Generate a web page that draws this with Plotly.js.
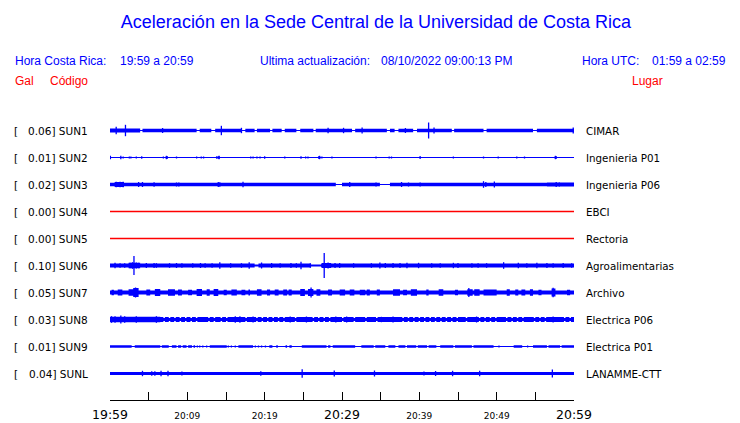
<!DOCTYPE html>
<html><head><meta charset="utf-8">
<script src="https://cdn.plot.ly/plotly-3.0.1.min.js"></script>
<style>html,body{margin:0;padding:0;background:#fff}#chart{width:740px;height:423px}</style>
</head><body><div id="chart"></div>
<script>
// ---------- DATA ----------
const codes  = ["SUN1","SUN2","SUN3","SUN4","SUN5","SUN6","SUN7","SUN8","SUN9","SUNL"];
const places = ["CIMAR","Ingenieria P01","Ingenieria P06","EBCI","Rectoria","Agroalimentarias","Archivo","Electrica P06","Electrica P01","LANAMME-CTT"];
const pgaGal = [0.06,0.01,0.02,0.00,0.00,0.10,0.05,0.03,0.01,0.04];
const tickMinutes = [0,5,10,15,20,25,30,35,40,45,50,55,60];
const tickLabels  = ["19:59","","20:09","","20:19","","20:29","","20:39","","20:49","","20:59"];
const majorTickLabels = ["19:59","20:29","20:59"];

// noise-band half amplitude per station (display units)
const baseAmp = [1.7,0.0,1.7,0.0,0.0,2.0,1.9,2.4,0.5,1.5];

// [start minute, end minute, half amplitude] where the band differs from the base
const sun1Segs = [[0,3.9,2.0],[3.9,4.2,0.5],[11.2,11.6,0.5],[13.1,13.6,0.5],[17.0,17.5,0.5],[18.7,19.0,0.5],[20.7,21.0,0.5],[22.2,22.6,0.5],[24.1,24.6,0.5],[26.3,26.6,0.5],[31.3,31.7,0.5],[35.8,36.2,0.5],[36.8,37.3,0.5],[39.2,39.7,0.5],[44.2,44.5,0.5],[48.3,48.7,0.5],[54.7,55.2,0.5]];
const sun2Segs = [[7.2,7.5,1.3],[13.9,14.2,1.3],[26.9,27.2,1.2],[57.5,57.8,1.2]];
const sun3Segs = [[0.6,1.8,2.5],[29.2,30.0,0.5],[34.9,36.2,0.5],[56.5,60,2.0]];
const sun4Segs = [];
const sun5Segs = [];
const sun6Segs = [[2.4,3.9,2.7],[18.7,19.2,1.1],[26.0,27.3,1.1],[27.4,28.6,2.5]];
const sun7Segs = [[0.2,0.5,2.7],[1.0,1.6,3],[2.4,3.0,3.3],[3.0,3.7,4.5],[4.7,5.2,3],[5.8,6.5,3.5],[7.5,8.4,3.3],[8.8,9.3,3],[10.1,10.6,2.7],[11.2,11.9,3.5],[12.5,12.9,3.3],[13.4,14.0,3.5],[14.7,15.1,2.7],[15.7,16.4,3],[17.0,17.5,2.7],[17.9,18.1,3],[19.0,19.6,3.3],[20.3,20.7,3],[21.3,21.8,3],[22.4,22.9,3],[23.1,23.5,3],[24.6,25.2,3.5],[25.6,26.3,3.5],[26.7,27.2,3.3],[28.2,28.7,3],[29.7,30.4,3],[31.0,31.6,3],[32.3,33.0,2.7],[33.2,33.6,3],[34.5,34.9,3],[36.6,37.5,3.3],[37.9,38.4,2.7],[38.9,39.7,3.3],[40.9,41.2,3],[42.5,43.1,3.3],[44.6,45.0,2.7],[46.2,46.9,3.3],[47.1,47.8,3.3],[48.3,50.0,3],[51.3,51.7,3.3],[52.4,52.8,3],[53.2,53.7,3],[54.3,54.7,3.3],[55.4,55.8,2.7],[57.1,57.6,4],[59.1,59.5,2.7]];
const sun8Segs = [[0,6.5,2.8],[6.9,7.1,1.6],[7.6,7.8,1.6],[8.3,8.5,1.6],[9.0,9.2,1.6],[9.7,9.9,1.6],[10.4,10.6,1.6],[11.1,11.3,1.6],[12.7,12.9,1.6],[13.4,13.6,1.6],[14.3,14.5,1.6],[15.0,15.2,1.6],[17.5,17.7,1.6],[18.9,19.1,1.6],[19.6,19.8,1.6],[20.3,20.5,1.6],[21.0,21.2,1.6],[21.7,21.9,1.6],[22.4,22.6,1.6],[23.9,24.1,1.6],[26.2,26.4,1.6],[26.9,27.1,1.6],[27.6,27.8,1.6],[28.3,28.5,1.6],[30.0,30.2,1.6],[31.5,31.7,1.6],[33.0,33.2,1.6],[34.4,34.6,1.6],[37.8,38.0,1.6],[38.5,38.7,1.6],[39.2,39.4,1.6],[39.9,40.1,1.6],[40.6,40.8,1.6],[41.3,41.5,1.6],[42.0,42.2,1.6],[42.7,42.9,1.6],[43.4,43.6,1.6],[44.1,44.3,1.6],[44.8,45.0,1.6],[46.0,46.2,1.6],[47.7,47.9,1.6],[48.4,48.6,1.6],[49.1,49.3,1.6],[49.8,50.0,1.6],[51.2,51.4,1.6],[51.9,52.1,1.6],[52.6,52.8,1.6],[53.3,53.5,1.6],[54.8,55.0,1.6],[55.5,55.7,1.6],[56.2,56.4,1.6],[58.7,58.9,1.6],[59.4,59.6,1.6]];
const sun9Segs = [[0,2.8,1.3],[3.2,6.5,1.3],[6.7,7.6,1.3],[8.0,8.6,1.3],[8.8,9.2,1.3],[9.4,9.9,1.3],[10.1,10.6,1.3],[10.8,11.0,1.3],[12.9,15.1,1.3],[16.6,18.5,1.3],[20.6,21.0,1.3],[21.5,21.7,1.3],[22.7,22.9,1.3],[23.2,23.5,1.3],[24.8,28.0,1.3],[28.2,28.5,1.3],[28.8,31.7,1.3],[32.5,34.1,1.3],[34.3,35.6,1.3],[36.0,36.9,1.3],[37.3,38.2,1.3],[38.4,39.6,1.3],[39.8,41.0,1.3],[41.2,42.2,1.3],[42.7,44.4,1.3],[44.6,46.8,1.3],[47.0,49.6,1.3],[52.2,53.3,1.3],[54.7,56.5,1.3],[56.7,58.2,1.3],[58.4,60,1.3]];
const sunLSegs = [];

// [minute, half amplitude] of individual peaks
const sun1Peaks = [[0.8,3.7],[2.0,5.7],[6.8,2.5],[14.4,4.7],[17.0,2.7],[28.2,2.7],[30.2,2.7],[32.6,3],[38.2,2.5],[41.2,8],[41.9,3],[59.9,3]];
const sun2Peaks = [[0.05,1.7],[1.4,1.7],[1.7,1],[2.5,1],[2.7,1],[3.4,1],[4.1,1.3],[6.9,1],[7.3,1.7],[8.6,1],[11.2,1],[11.8,1],[12.1,1],[13.8,1.3],[14.1,1.7],[18.2,1],[18.5,1],[19.0,1],[19.4,1],[20.0,1.3],[22.6,1],[24.7,1.3],[25.3,1],[25.6,1],[27.1,1.7],[27.4,1],[28.7,1],[34.4,1],[36.1,1],[36.4,1],[40.1,1.5],[44.4,1],[48.3,1],[50.2,1],[52.6,1],[53.6,1],[57.6,1.7]];
const sun3Peaks = [[0.8,2.7],[1.3,2.7],[1.7,2.7],[3.7,2.5],[4.2,2.5],[5.7,2.3],[8.6,2],[8.9,2],[14.0,2.5],[14.2,2.3],[17.2,2.7],[31.0,2.5],[34.4,2],[37.7,2.5],[38.6,2],[40.1,2],[48.3,3.3],[48.6,2.5],[49.7,3],[57.7,2.5],[58.1,2]];
const sun4Peaks = [];
const sun5Peaks = [];
const sun6Peaks = [[0.65,2.7],[1.3,2.3],[1.9,2.3],[2.6,2.7],[2.9,3.3],[3.1,9.5],[3.4,3],[3.7,2.7],[4.7,2.5],[5.7,2.5],[6.0,2.3],[7.7,2.3],[8.6,2.5],[9.3,2.3],[10.7,2.3],[11.7,2.5],[12.3,2.3],[13.2,2.3],[14.2,3.3],[15.6,2.3],[17.0,2.3],[18.0,3.3],[19.6,3],[20.9,2.5],[22.0,2.3],[23.4,2.5],[24.1,2.3],[24.7,3.7],[25.9,2.3],[27.7,12.5],[28.2,3],[29.1,2.5],[29.7,2.5],[31.5,2.3],[33.8,2.3],[34.9,3],[35.6,2.5],[36.6,2.5],[37.5,2.5],[38.4,2.7],[39.9,2.7],[41.6,2.3],[42.7,2.3],[44.4,2.7],[45.0,2.5],[46.8,2.3],[47.6,2.3],[48.7,2.3],[50.9,3.3],[52.8,2.7],[53.9,2.3],[55.2,2.7],[56.5,2.5],[57.3,2.3],[58.6,2.5],[59.7,2.3]];
const sun7Peaks = [[3.3,5],[26.0,5],[46.4,4.5],[57.3,4.7]];
const sun8Peaks = [[0.2,3.3],[0.65,3.3],[1.4,4],[1.9,3.3],[3.4,3.3],[6.0,3.3],[16.2,3.3],[16.8,3.3],[18.5,3],[23.3,3],[25.4,3],[29.2,3],[30.6,3],[35.1,2.7],[36.6,3],[47.4,3],[57.3,3]];
const sun9Peaks = [[11.3,1],[11.6,1],[12.0,1],[12.5,1],[15.3,1],[15.7,1],[16.2,1],[18.8,1],[19.2,1],[19.6,1],[20.1,1],[50.3,1],[54.0,1]];
const sunLPeaks = [[4.2,2.7],[5.4,2.3],[5.8,2.3],[6.6,2.7],[7.5,2.7],[9.3,2],[19.5,2.3],[24.85,4.3],[29.0,3],[34.2,3],[40.6,2],[42.1,2.5],[44.3,2.7],[47.8,2.7],[57.2,4]];

const segsList  = [sun1Segs,sun2Segs,sun3Segs,sun4Segs,sun5Segs,sun6Segs,sun7Segs,sun8Segs,sun9Segs,sunLSegs];
const peaksList = [sun1Peaks,sun2Peaks,sun3Peaks,sun4Peaks,sun5Peaks,sun6Peaks,sun7Peaks,sun8Peaks,sun9Peaks,sunLPeaks];

// ---------- LAYOUT GEOMETRY ----------
const W=740,H=423, PL=110, PR=574, PT=115, PB=400;
const ROW0=130.5, ROWSTEP=27;
const T0=tickMinutes[0], T1=tickMinutes[tickMinutes.length-1];
const BLUE="#0000ff", RED="#ff0000";
const colorOf = k => (pgaGal[k]===0 ? RED : BLUE);
const px = x => (x-PL)/(PR-PL);
const py = y => (PB-y)/(PB-PT);

const traces=[];
codes.forEach((c,k)=>{
  const y0=ROW0+ROWSTEP*k, col=colorOf(k);
  // center line
  traces.push({x:[T0,T1],y:[y0,y0],mode:'lines',line:{color:col,width:(col===RED?1.3:1.1),simplify:false},hoverinfo:'skip',showlegend:false});
  // band polygon
  const segs=segsList[k].slice().sort((a,b)=>a[0]-b[0]);
  const steps=[]; let cur=T0;
  segs.forEach(([a,b,h])=>{ if(a>cur) steps.push([cur,a,baseAmp[k]]); steps.push([a,b,h]); cur=b; });
  if(cur<T1) steps.push([cur,T1,baseAmp[k]]);
  const xs=[],ys=[];
  steps.forEach(([a,b,h])=>{xs.push(a,b);ys.push(y0-h,y0-h);});
  for(let i=steps.length-1;i>=0;i--){const [a,b,h]=steps[i];xs.push(b,a);ys.push(y0+h,y0+h);}
  if(steps.some(s=>s[2]>0)){
    traces.push({x:xs,y:ys,mode:'lines',fill:'toself',fillcolor:col,line:{width:0,color:col,simplify:false},hoverinfo:'skip',showlegend:false});
  }
  // peaks
  const pxs=[],pys=[];
  peaksList[k].forEach(([t,h])=>{pxs.push(t,t,null);pys.push(y0-h,y0+h,null);});
  if(pxs.length) traces.push({x:pxs,y:pys,mode:'lines',line:{color:col,width:1.3,simplify:false},hoverinfo:'skip',showlegend:false});
});

const F1="Liberation Sans, Arial, sans-serif", F2="DejaVu Sans, sans-serif";
const ann=[];
function txt(x,y,t,opts){ann.push(Object.assign({xref:'paper',yref:'paper',x:px(x),y:py(y),text:t,showarrow:false,xanchor:'left',yanchor:'middle',borderpad:0,borderwidth:0,font:{family:F1,size:12,color:BLUE}},opts||{}));}
txt(15,61,"Hora Costa Rica:");
txt(120,61,"19:59 a 20:59");
txt(260,61,"Ultima actualización:");
txt(381,61,"08/10/2022 09:00:13 PM");
txt(582,61,"Hora UTC:");
txt(652,61,"01:59 a 02:59");
txt(15,81,"Gal",{font:{family:F1,size:12,color:RED}});
txt(50,81,"Código",{font:{family:F1,size:12,color:RED}});
txt(632,81,"Lugar",{font:{family:F1,size:12,color:RED}});
codes.forEach((c,k)=>{
  const y0=ROW0+ROWSTEP*k;
  txt(14,y0,"[",{font:{family:F2,size:10.5,color:'#000'}});
  txt(88,y0,pgaGal[k].toFixed(2)+"] "+c,{xanchor:'right',font:{family:F2,size:10.5,color:'#000'}});
  txt(586,y0,places[k],{font:{family:F2,size:10.3,color:'#000'}});
});

const tickText = tickLabels.map(s => (s==="" || majorTickLabels.includes(s)) ? s : '<span style="font-size:9px">'+s+'</span>');

const layout={
  width:W,height:H,paper_bgcolor:'#fff',plot_bgcolor:'#fff',showlegend:false,
  margin:{l:PL,r:W-PR,t:PT,b:H-PB,pad:0},
  title:{text:"Aceleración en la Sede Central de la Universidad de Costa Rica",xref:'container',yref:'container',x:376/W,y:1-22/H,xanchor:'center',yanchor:'middle',font:{family:F1,size:18,color:BLUE}},
  xaxis:{range:[T0,T1],tickmode:'array',tickvals:tickMinutes,ticktext:tickText,ticks:'inside',ticklen:8,tickwidth:1,tickcolor:'#000',ticklabelstandoff:3,
    showline:true,linecolor:'#000',linewidth:1,showgrid:false,zeroline:false,tickfont:{family:F2,size:12.5,color:'#000'},fixedrange:true},
  yaxis:{range:[PB,PT],visible:false,fixedrange:true},
  annotations:ann
};
Plotly.newPlot('chart',traces,layout,{staticPlot:true,displayModeBar:false});
</script></body></html>
